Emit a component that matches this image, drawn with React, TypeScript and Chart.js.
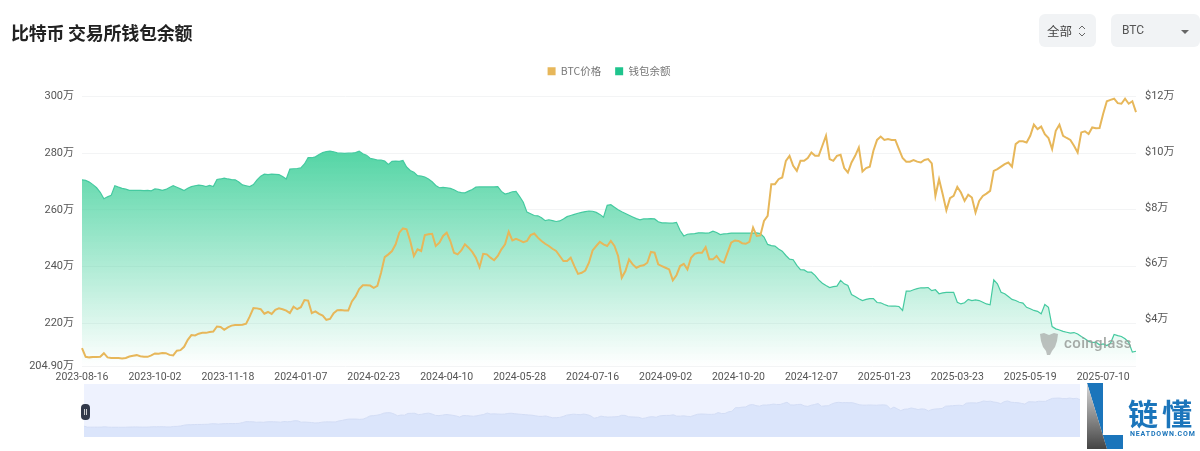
import React, { useEffect, useRef } from "react";
import { Chart, registerables } from "chart.js";

Chart.register(...registerables);

const tickLabels = [
  "2023-08-16", "2023-10-02", "2023-11-18", "2024-01-07", "2024-02-23",
  "2024-04-10", "2024-05-28", "2024-07-16", "2024-09-02", "2024-10-20",
  "2024-12-07", "2025-01-23", "2025-03-23", "2025-05-19", "2025-07-10",
];
const samplesPerTick = 20;

const walletPart1 = [
  270.6,270.4,269.8,268.9,267.8,266.2,263.9,264.6,265.1,268.5,268,267.6,267.3,266.9,266.9,266.9,266.9,266.8,266.9,266.7,
  267.4,267.2,266.9,267.2,267.9,268.5,268,267.4,266.8,267.6,268.2,268.5,268.7,268.6,268.2,268.6,268.2,270.7,270.9,271.2,
  270.9,270.7,270.6,269.8,268.8,268.5,268.2,268.9,270.6,271.9,272.6,272.4,272.6,272.5,272.4,271.8,270.9,274.4,274.5,274.6,
  274.8,276.2,278.4,278.4,278.7,279.5,280.2,280.6,280.7,280.5,280.1,280,279.9,280,280,280.2,280.7,279.8,279.3,278.2,
  277.9,277.6,277.6,277.2,276,277.1,277.2,277.1,277.4,275.1,273.9,273.3,272.1,
];
const walletPart2 = [
  271.9,271.6,270.9,269.9,268.6,267.8,267.9,267.8,267.6,267.1,266.4,266.1,266,266.6,267.2,268,268.1,268.1,268.1,268.1,
  268.1,268.2,266.5,265.6,265.9,266.4,266.5,264.7,262.7,259.2,258.6,258,257.9,257.2,256.2,256.5,256.2,255.9,256.1,256.8,
  257.6,258,258.4,258.8,259.1,259.4,259.6,259.5,259.1,258.4,257.4,261.6,261.8,260.9,260,259.3,258.7,258.1,257.5,256.9,
  256.5,256.8,256.8,256.9,256.8,255.8,255.4,255.4,255.3,255.3,255.6,252.7,250.8,251.4,251.5,251.6,251.9,251.9,251.8,251.9,
  252.5,252,251.3,251.5,251.6,251.8,251.8,251.8,251.8,251.8,251.8,251.8,251.9,251.6,250.4,247.8,247.4,247.2,246.2,245.4,
  243.9,242.6,242.4,240.4,238.9,
];
const walletPart3 = [
  238.8,238,238,236.9,235.3,234.1,233.3,232.6,232.9,233.1,235.1,233.9,233.3,230.1,229.4,228.6,228,228.4,228.7,228.7,
  227.3,227.2,226.6,226.1,226,226,225.9,224.5,231.3,231.3,231.8,232.2,232.5,232.5,232.6,231.5,231.8,230.4,230.7,230.9,
  230.9,230.9,227.4,226.8,227.2,228.4,228,228.2,228,227.4,226.8,226.5,235.3,233.9,230.9,230.4,229.4,228.4,228,227.4,
  227.1,225.6,225.1,224.5,224.2,223.3,226.6,225.6,218.8,218,217.6,217.1,216.8,216.5,216.7,216.2,215.3,214.5,213.6,213.2,
  213.3,212.4,212.7,212.1,212.9,216,215.6,215.3,214.5,213.3,209.8,210.1,
];
const btcPart1 = [
  2.96,2.65,2.63,2.64,2.64,2.65,2.78,2.63,2.61,2.61,2.61,2.59,2.61,2.66,2.69,2.71,2.67,2.65,2.65,2.70,
  2.77,2.76,2.79,2.78,2.72,2.70,2.87,2.89,3.01,3.26,3.43,3.42,3.48,3.51,3.51,3.54,3.56,3.74,3.72,3.62,
  3.71,3.77,3.79,3.79,3.80,3.84,4.10,4.40,4.39,4.36,4.20,4.26,4.19,4.34,4.39,4.36,4.31,4.22,4.45,4.36,
  4.43,4.69,4.67,4.22,4.28,4.19,4.13,3.98,4.01,4.22,4.32,4.33,4.31,4.31,4.64,4.82,5.08,5.22,5.22,5.21,
  5.13,5.20,5.67,6.23,6.33,6.45,6.69,7.11,7.26,7.23,6.81,6.27,6.51,
];
const btcPart2 = [
  6.45,7.02,7.05,7.07,6.63,6.75,6.99,7.11,6.81,6.39,6.33,6.47,6.69,6.57,6.42,6.21,5.87,6.35,6.33,6.21,
  6.12,6.27,6.51,6.69,7.14,6.83,6.89,6.83,6.77,6.81,7.02,7.08,6.93,6.81,6.71,6.63,6.53,6.45,6.27,6.09,
  6.09,6.21,5.91,5.63,5.67,5.75,6.03,6.47,6.63,6.78,6.69,6.63,6.81,6.63,6.27,5.49,5.73,6.15,5.97,5.85,
  5.91,5.94,6.03,6.42,6.39,5.97,5.91,5.85,5.79,5.40,5.58,5.91,5.99,5.79,6.21,6.35,6.39,6.39,6.59,6.15,
  6.15,6.27,6.09,6.03,6.39,6.75,6.83,6.81,6.73,6.71,6.78,7.29,6.99,7.01,7.53,7.71,8.85,8.85,9.03,9.09,
  9.69,9.87,9.51,9.33,9.69,
];
const btcPart3 = [
  9.69,9.79,9.99,9.87,9.87,10.23,10.59,9.75,9.69,9.87,9.91,9.43,9.27,9.63,9.87,10.17,9.31,9.43,9.48,10.05,
  10.44,10.56,10.44,10.47,10.44,10.44,10.11,9.79,9.66,9.66,9.72,9.66,9.63,9.72,9.75,9.60,8.43,9.03,8.49,7.91,
  8.35,8.43,8.75,8.55,8.25,8.47,8.37,7.83,8.25,8.43,8.51,8.61,9.33,9.39,9.48,9.57,9.63,9.48,10.29,10.39,
  10.39,10.35,10.59,10.99,10.83,10.92,10.65,10.51,10.11,10.77,10.99,10.59,10.51,10.44,10.23,9.99,10.71,10.75,10.65,10.89,
  10.86,10.87,11.38,11.83,11.88,11.92,11.76,11.74,11.92,11.74,11.83,11.44,
];
const leftTicks = [300, 280, 260, 240, 220, 204.9];
const rightTicks = [12, 10, 8, 6, 4];

const walletValues = [...walletPart1, ...walletPart2, ...walletPart3];
const btcValues = [...btcPart1, ...btcPart2, ...btcPart3];
const categories = btcValues.map((_, i) =>
  i % samplesPerTick === 0 ? tickLabels[i / samplesPerTick] ?? "" : ""
);

const FONT = "Roboto, 'Noto Sans CJK SC', sans-serif";
const CJK = "'Noto Sans CJK SC', Roboto, sans-serif";

const legendSpacer = {
  id: "legendSpacer",
  beforeInit(chart: any) {
    const fit = chart.legend.fit;
    chart.legend.fit = function () {
      fit.call(this);
      this.height += 10;
    };
  },
};

export default function App() {
  const mainRef = useRef<HTMLCanvasElement>(null);
  const miniRef = useRef<HTMLCanvasElement>(null);

  useEffect(() => {
    const main = new Chart(mainRef.current!, {
      type: "line",
      plugins: [legendSpacer],
      data: {
        labels: categories,
        datasets: [
          {
            label: "BTC价格",
            data: btcValues,
            yAxisID: "yRight",
            borderColor: "#e7b75a",
            backgroundColor: "#e7b75a",
            borderWidth: 2,
            pointRadius: 0,
            tension: 0,
            fill: false,
          },
          {
            label: "钱包余额",
            data: walletValues,
            yAxisID: "yLeft",
            borderColor: "#45caa0",
            borderWidth: 1.2,
            pointRadius: 0,
            tension: 0,
            fill: "start",
            backgroundColor: (ctx: any) => {
              const area = ctx.chart.chartArea;
              if (!area) return "#1fc48d";
              const g = ctx.chart.ctx.createLinearGradient(0, area.top + 50, 0, area.bottom);
              g.addColorStop(0, "rgba(80,212,163,1)");
              g.addColorStop(1, "rgba(80,212,163,0)");
              return g;
            },
          } as any,
        ],
      },
      options: {
        responsive: false,
        animation: false,
        layout: { padding: { top: 52, bottom: 65, left: 0, right: 0 } },
        plugins: {
          tooltip: { enabled: false },
          legend: {
            position: "top",
            fullSize: false,
            labels: {
              boxWidth: 8,
              boxHeight: 8,
              padding: 14,
              color: "#777",
              font: { family: CJK, size: 10.5 },
              generateLabels: (chart: any) =>
                chart.data.datasets.map((d: any, i: number) => ({
                  text: d.label,
                  fillStyle: i === 0 ? "#e7b75a" : "#1fc48d",
                  strokeStyle: "transparent",
                  lineWidth: 0,
                  fontColor: "#777",
                  datasetIndex: i,
                })),
            },
          },
        },
        scales: {
          x: {
            type: "category",
            grid: { display: false, drawTicks: false },
            border: { display: false },
            afterFit: (s: any) => { s.height = 20; },
            ticks: {
              autoSkip: false,
              maxRotation: 0,
              minRotation: 0,
              padding: 5,
              color: "#555",
              font: { family: FONT, size: 10.5 },
            },
          },
          yLeft: {
            position: "left",
            min: 204.9,
            max: 300,
            afterFit: (s: any) => { s.width = 82; },
            afterBuildTicks: (s: any) => { s.ticks = leftTicks.map((value) => ({ value })); },
            grid: { color: "#f3f4f5", drawTicks: false },
            border: { display: false },
            ticks: {
              padding: 8,
              color: "#555",
              font: { family: FONT, size: 11 },
              callback: (v: any) => (v === 204.9 ? "204.90万" : `${v}万`),
            },
          },
          yRight: {
            position: "right",
            min: 2.32,
            max: 12,
            afterFit: (s: any) => { s.width = 64; },
            afterBuildTicks: (s: any) => { s.ticks = rightTicks.map((value) => ({ value })); },
            grid: { display: false, drawTicks: false },
            border: { display: false },
            ticks: {
              padding: 9,
              color: "#555",
              font: { family: FONT, size: 11 },
              callback: (v: any) => `$${v}万`,
            },
          },
        },
      },
    } as any);

    const mini = new Chart(miniRef.current!, {
      type: "line",
      data: {
        labels: categories,
        datasets: [
          {
            data: btcValues,
            borderColor: "#d3ddf5",
            borderWidth: 1,
            backgroundColor: "#dbe5fb",
            pointRadius: 0,
            fill: "start",
          },
        ],
      },
      options: {
        responsive: false,
        animation: false,
        layout: { padding: 0 },
        plugins: { legend: { display: false }, tooltip: { enabled: false } },
        scales: {
          x: { display: false },
          y: { display: false, min: -0.5, max: 16.4 },
        },
      },
    } as any);

    return () => {
      main.destroy();
      mini.destroy();
    };
  }, []);

  return (
    <div style={{ position: "absolute", left: 0, top: 0, width: 1200, height: 451, overflow: "hidden", background: "#fff" }}>
      <canvas ref={mainRef} width={1200} height={451} style={{ position: "absolute", left: 0, top: 0, display: "block" }} />

      <div style={{ position: "absolute", left: 11, top: 18, fontFamily: CJK, fontWeight: 700, fontSize: 18, lineHeight: "28px", letterSpacing: -0.25, color: "#222", whiteSpace: "nowrap" }}>
        比特币 交易所钱包余额
      </div>

      <div style={{ position: "absolute", left: 1039, top: 14, width: 57, height: 33, background: "#f1f3f5", borderRadius: 6, fontFamily: CJK, fontSize: 12.5, lineHeight: "33px", color: "#444" }}>
        <span style={{ position: "absolute", left: 8 }}>全部</span>
        <svg width="8" height="14" style={{ position: "absolute", left: 39, top: 10 }}>
          <path d="M1 5 L4 2 L7 5 M1 9 L4 12 L7 9" stroke="#666" strokeWidth="1" fill="none" />
        </svg>
      </div>
      <div style={{ position: "absolute", left: 1111, top: 14, width: 89, height: 33, background: "#f1f3f5", borderRadius: 6, fontFamily: FONT, fontSize: 12, lineHeight: "33px", color: "#555" }}>
        <span style={{ position: "absolute", left: 11 }}>BTC</span>
        <svg width="10" height="6" style={{ position: "absolute", left: 69, top: 15 }}>
          <path d="M1 1 L9 1 L5 5 Z" fill="#666" />
        </svg>
      </div>

      <svg width="20" height="24" style={{ position: "absolute", left: 1039, top: 332, opacity: 0.75 }}>
        <path d="M1 2 L5 1 L10 3 L15 1 L19 2 L18 9 L16 15 L13 19 L11 23 L8 23 L7 19 L4 15 L2 9 Z" fill="#a9acaa" />
      </svg>
      <div style={{ position: "absolute", left: 1064, top: 333, fontFamily: FONT, fontWeight: 500, fontSize: 15, lineHeight: "20px", letterSpacing: 0.4, color: "rgba(150,155,152,0.85)" }}>
        coinglass
      </div>

      <div style={{ position: "absolute", left: 84, top: 384, width: 996, height: 53, background: "#eef2fe" }}>
        <canvas ref={miniRef} width={996} height={53} style={{ display: "block" }} />
      </div>
      <div style={{ position: "absolute", left: 81, top: 404, width: 9, height: 16, background: "#333a4a", borderRadius: 4 }}>
        <div style={{ position: "absolute", left: 3, top: 5, width: 3, height: 6, borderLeft: "1px solid #ccc", borderRight: "1px solid #ccc", boxSizing: "border-box" }} />
      </div>

      <svg width="37" height="67" style={{ position: "absolute", left: 1087, top: 383 }}>
        <defs>
          <linearGradient id="lg" x1="0" y1="0" x2="0" y2="1">
            <stop offset="0" stopColor="#d8d8d8" />
            <stop offset="1" stopColor="#444" />
          </linearGradient>
        </defs>
        <polygon points="0,0 16,0 16,52 36,52 36,66 20,66" fill="#1b75bb" />
        <polygon points="0,0 20,66 0,66" fill="url(#lg)" />
      </svg>
      <div style={{ position: "absolute", left: 1128, top: 392, fontFamily: CJK, fontWeight: 700, fontSize: 30, lineHeight: "40px", letterSpacing: 4, color: "#1b75bb", whiteSpace: "nowrap" }}>
        链懂
      </div>
      <div style={{ position: "absolute", left: 1130, top: 429, fontFamily: FONT, fontWeight: 700, fontSize: 7, lineHeight: "10px", letterSpacing: 0.85, color: "#1b75bb", whiteSpace: "nowrap" }}>
        NEATDOWN.COM
      </div>
    </div>
  );
}
